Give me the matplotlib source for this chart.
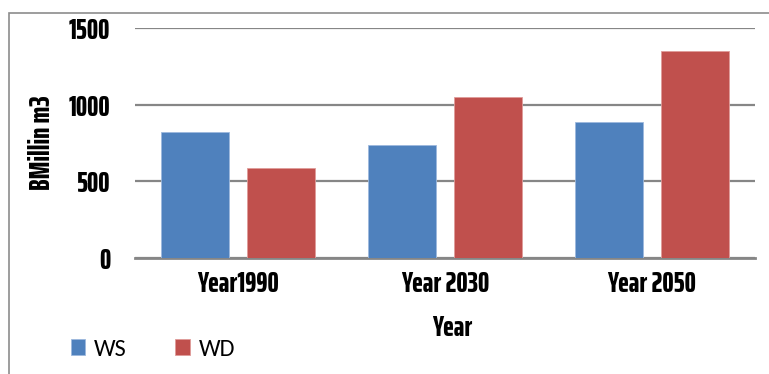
import matplotlib.pyplot as plt
import numpy as np
from matplotlib.patches import Rectangle

# data
categories = ["Year1990", "Year 2030", "Year 2050"]
ws_values = [824, 739, 889]
wd_values = [590, 1048, 1349]
y_ticks = [0, 500, 1000, 1500]

BLUE = "#4F81BD"
RED = "#C0504D"
GRID = "#868686"
COND = ["Saira ExtraCondensed", "Roboto Condensed", "DejaVu Sans"]
LEGEND_FONT = ["Carlito", "DejaVu Sans"]
TXT_SIZE = 20.5

fig = plt.figure(figsize=(7.69, 3.74), dpi=100)
ax = fig.add_axes([135 / 769, 1 - 258 / 374, 620 / 769, 230 / 374])

x = np.arange(len(categories))
w = 0.33
off = 0.208
ax.bar(x - off, ws_values, w, color=BLUE, edgecolor="#9DB9DD", linewidth=0.6,
       label="WS", zorder=3)
ax.bar(x + off, wd_values, w, color=RED, edgecolor="#E09C9A", linewidth=0.6,
       label="WD", zorder=3)

ax.set_xlim(-0.5, len(categories) - 0.5)
ax.set_ylim(0, 1500)
ax.set_yticks(y_ticks)
ax.set_xticks(x)
ax.set_xticklabels(categories)

for s in ["top", "right", "left"]:
    ax.spines[s].set_visible(False)
ax.spines["bottom"].set_color(GRID)
ax.spines["bottom"].set_linewidth(2)
ax.yaxis.grid(True, color=GRID, linewidth=1.6, zorder=0)
ax.set_axisbelow(True)

ax.tick_params(axis="y", length=0, pad=18)
ax.tick_params(axis="x", length=0, pad=9)
for lab in ax.get_yticklabels() + ax.get_xticklabels():
    lab.set_fontfamily(COND)
    lab.set_fontweight(800)
    lab.set_fontsize(TXT_SIZE)

fig.text(42 / 769, 1 - 143 / 374, "BMillin m3", rotation=90, ha="center",
         va="center", fontfamily=COND, fontweight=800, fontsize=TXT_SIZE)
fig.text(452 / 769, 1 - 328 / 374, "Year", ha="center", va="center",
         fontfamily=COND, fontweight=800, fontsize=TXT_SIZE)

fig.legend(loc="center left", bbox_to_anchor=(49 / 769, 1 - 349 / 374),
           ncol=2, frameon=False, handlelength=0.6, handleheight=0.65,
           handletextpad=0.35, columnspacing=2.0,
           prop={"family": LEGEND_FONT, "size": 17.5})

# outer chart frame
fig.patches.append(Rectangle((9 / 769, -0.1), 1.2, 1 - 13 / 374 + 0.1,
                             transform=fig.transFigure, fill=False,
                             edgecolor="#8C8C8C", linewidth=1.2))

fig.savefig("out.png", dpi=100)
